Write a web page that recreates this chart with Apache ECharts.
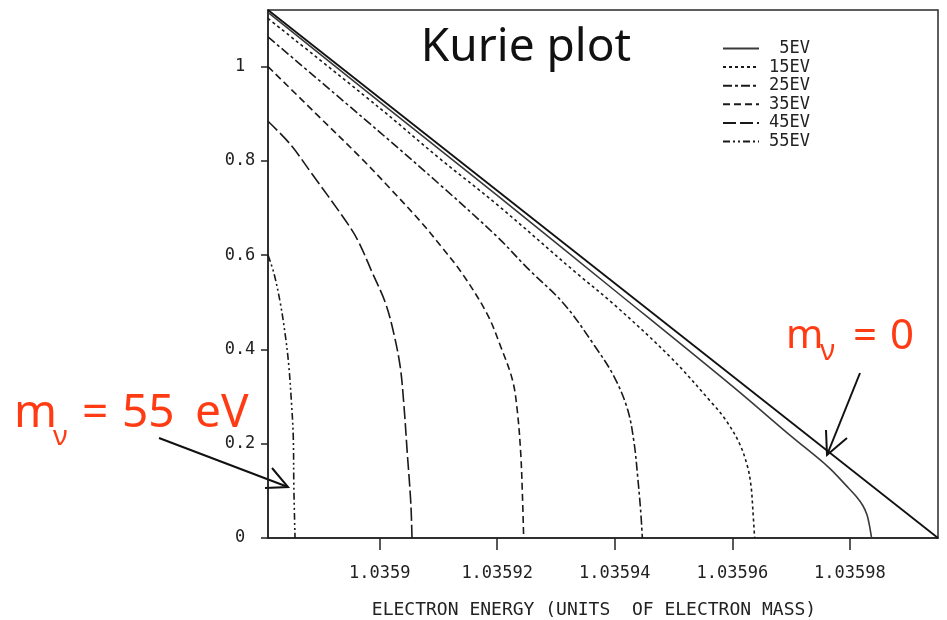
<!DOCTYPE html>
<html><head><meta charset="utf-8">
<script src="https://cdn.jsdelivr.net/npm/echarts@6/dist/echarts.min.js"></script>
<style>html,body{margin:0;padding:0;background:#fff}#c{width:947px;height:620px}</style>
</head><body><div id="c"></div>
<script>
// ---- data ----
const seriesNames = ['5EV', '15EV', '25EV', '35EV', '45EV', '55EV'];

const masslessX = [1.035881, 1.035995];
const masslessY = [1.12, 0];

const ev5X = [1.035881, 1.0359, 1.03592, 1.03594, 1.03596, 1.03597, 1.0359763, 1.0359794, 1.0359811, 1.0359822, 1.0359829, 1.0359833, 1.0359837];
const ev5Y = [1.115, 0.925, 0.727, 0.525, 0.322, 0.216, 0.151, 0.111, 0.088, 0.069, 0.050, 0.029, 0];

const ev15X = [1.035881, 1.0359, 1.0359103, 1.03592, 1.0359331, 1.03594, 1.0359496, 1.0359567, 1.0359589, 1.0359612, 1.0359626, 1.0359632, 1.0359635, 1.0359638];
const ev15Y = [1.102, 0.912, 0.804, 0.707, 0.566, 0.494, 0.382, 0.284, 0.250, 0.201, 0.151, 0.109, 0.059, 0];

const ev25X = [1.035881, 1.0359, 1.0359103, 1.03592, 1.0359251, 1.0359314, 1.0359365, 1.0359399, 1.0359422, 1.0359433, 1.0359439, 1.0359444, 1.0359447];
const ev25Y = [1.063, 0.861, 0.749, 0.639, 0.573, 0.496, 0.409, 0.342, 0.272, 0.201, 0.130, 0.059, 0];

const ev35X = [1.035881, 1.035889, 1.035897, 1.0359018, 1.0359069, 1.0359105, 1.0359141, 1.0359183, 1.0359206, 1.0359226, 1.0359234, 1.035924, 1.0359243, 1.0359245];
const ev35Y = [1.000, 0.902, 0.804, 0.741, 0.672, 0.618, 0.560, 0.475, 0.406, 0.335, 0.272, 0.180, 0.088, 0];

const ev45X = [1.035881, 1.0358848, 1.0358885, 1.0358941, 1.0358963, 1.0358987, 1.035901, 1.0359024, 1.0359035, 1.0359041, 1.0359047, 1.0359053, 1.0359055];
const ev45Y = [0.884, 0.835, 0.772, 0.675, 0.631, 0.564, 0.498, 0.434, 0.363, 0.286, 0.180, 0.074, 0];

const ev55X = [1.035881, 1.035882, 1.0358831, 1.0358839, 1.0358845, 1.035885, 1.0358853, 1.0358854, 1.0358856];
const ev55Y = [0.600, 0.562, 0.498, 0.434, 0.371, 0.286, 0.215, 0.109, 0];

const xTickValues = [1.0359, 1.03592, 1.03594, 1.03596, 1.03598];
const xTickLabels = ['1.0359', '1.03592', '1.03594', '1.03596', '1.03598'];
const yTickValues = [0, 0.2, 0.4, 0.6, 0.8, 1];
const yTickLabels = ['0', '0.2', '0.4', '0.6', '0.8', '1'];

const titleText = 'Kurie plot';
const xAxisTitle = 'ELECTRON ENERGY (UNITS  OF ELECTRON MASS)';

// ---- chart ----
function pairs(xs, ys) { return xs.map((x, i) => [x, ys[i]]); }
function labelFor(values, labels, v) {
  for (let i = 0; i < values.length; i++) if (Math.abs(values[i] - v) < 1e-9) return labels[i];
  return '';
}
const curveX = [ev5X, ev15X, ev25X, ev35X, ev45X, ev55X];
const curveY = [ev5Y, ev15Y, ev25Y, ev35Y, ev45Y, ev55Y];
const dashes = ['solid', [3, 3], [9, 3, 3, 3], [7, 4], [13, 4], [7, 3, 2, 3, 2, 3]];
const colors = ['#3a3a3a', '#1a1a1a', '#1a1a1a', '#1a1a1a', '#1a1a1a', '#1a1a1a'];

const chart = echarts.init(document.getElementById('c'), null, { renderer: 'canvas' });
const mono = 'DejaVu Sans Mono';
const red = '#ff3b14';

const series = [{
  name: 'm0', type: 'line', data: pairs(masslessX, masslessY), symbol: 'none', silent: true,
  lineStyle: { color: '#111', width: 1.8 }, itemStyle: { color: '#111' }
}];
seriesNames.forEach((n, i) => {
  series.push({
    name: n, type: 'line', data: pairs(curveX[i], curveY[i]), symbol: 'none', silent: true,
    smooth: 0.35,
    color: colors[i],
    lineStyle: { color: colors[i], width: 1.6, type: dashes[i] },
    itemStyle: { color: colors[i] }
  });
});

const option = {
  animation: false,
  backgroundColor: '#fff',
  title: [
    { text: titleText, left: 521, top: 20, textAlign: 'center',
      textStyle: { fontFamily: 'Noto Sans', fontSize: 46, fontWeight: 'normal', color: '#111' } },
    { text: xAxisTitle, left: 589, top: 596, textAlign: 'center',
      textStyle: { fontFamily: mono, fontSize: 18, fontWeight: 'normal', color: '#222' } }
  ],
  legend: {
    data: seriesNames, orient: 'vertical', left: 717, top: 35,
    itemWidth: 36, itemHeight: 12, itemGap: 1.6,
    itemStyle: { opacity: 0 },
    formatter: n => '{r|' + n + '}',
    textStyle: { color: '#222', fontFamily: mono, fontSize: 17, lineHeight: 12,
      rich: { r: { width: 46, align: 'right', lineHeight: 12, fontFamily: mono, fontSize: 17, color: '#222' } } }
  },
  grid: { left: 268, right: 9, top: 10, bottom: 82, show: true, borderColor: '#2a2a2a', borderWidth: 1.5,
    containLabel: false, outerBoundsMode: 'none' },
  xAxis: {
    type: 'value', min: 1.035881, max: 1.035995, scale: true,
    axisLine: { show: true, onZero: false, lineStyle: { color: '#222', width: 1.5 } },
    axisTick: { show: true, inside: false, length: 12, customValues: xTickValues, lineStyle: { color: '#222', width: 1.5 } },
    axisLabel: { customValues: xTickValues, margin: 27, color: '#222', fontFamily: mono, fontSize: 17,
      formatter: v => labelFor(xTickValues, xTickLabels, v) },
    splitLine: { show: false }
  },
  yAxis: {
    type: 'value', min: 0, max: 1.12,
    axisLine: { show: true, onZero: false, lineStyle: { color: '#222', width: 1.5 } },
    axisTick: { show: true, inside: false, length: 7, customValues: yTickValues, lineStyle: { color: '#222', width: 1.5 } },
    axisLabel: { customValues: yTickValues, margin: 28, align: 'center', color: '#222', fontFamily: mono, fontSize: 17,
      formatter: v => labelFor(yTickValues, yTickLabels, v) },
    splitLine: { show: false }
  },
  graphic: [
    // m_nu = 55 eV annotation
    { type: 'text', x: 14, y: 414, style: { text: 'm', fill: red, font: '46px "Noto Sans"', verticalAlign: 'middle' } },
    { type: 'text', x: 53, y: 437, style: { text: 'ν', fill: red, font: '28px "Noto Sans"', verticalAlign: 'middle' } },
    { type: 'text', x: 82, y: 414, style: { text: '=', fill: red, font: '46px "Noto Sans"', verticalAlign: 'middle' } },
    { type: 'text', x: 122, y: 414, style: { text: '55', fill: red, font: '46px "Noto Sans"', verticalAlign: 'middle' } },
    { type: 'text', x: 195, y: 414, style: { text: 'eV', fill: red, font: '46px "Noto Sans"', verticalAlign: 'middle' } },
    { type: 'polyline', shape: { points: [[159, 438], [288, 487]] }, style: { stroke: '#111', lineWidth: 2, fill: null } },
    { type: 'polyline', shape: { points: [[272, 468], [288, 487], [265, 488]] }, style: { stroke: '#111', lineWidth: 2, fill: null } },
    // m_nu = 0 annotation
    { type: 'text', x: 786, y: 337, style: { text: 'm', fill: red, font: '40px "Noto Sans"', verticalAlign: 'middle' } },
    { type: 'text', x: 820, y: 352, style: { text: 'ν', fill: red, font: '29px "Noto Sans"', verticalAlign: 'middle' } },
    { type: 'text', x: 853, y: 337, style: { text: '=', fill: red, font: '42px "Noto Sans"', verticalAlign: 'middle' } },
    { type: 'text', x: 890, y: 337, style: { text: '0', fill: red, font: '42px "Noto Sans"', verticalAlign: 'middle' } },
    { type: 'polyline', shape: { points: [[860, 373], [827, 455]] }, style: { stroke: '#111', lineWidth: 2, fill: null } },
    { type: 'polyline', shape: { points: [[826, 430], [827, 455], [847, 438]] }, style: { stroke: '#111', lineWidth: 2, fill: null } }
  ],
  series: series
};
chart.setOption(option);
</script>
</body></html>
